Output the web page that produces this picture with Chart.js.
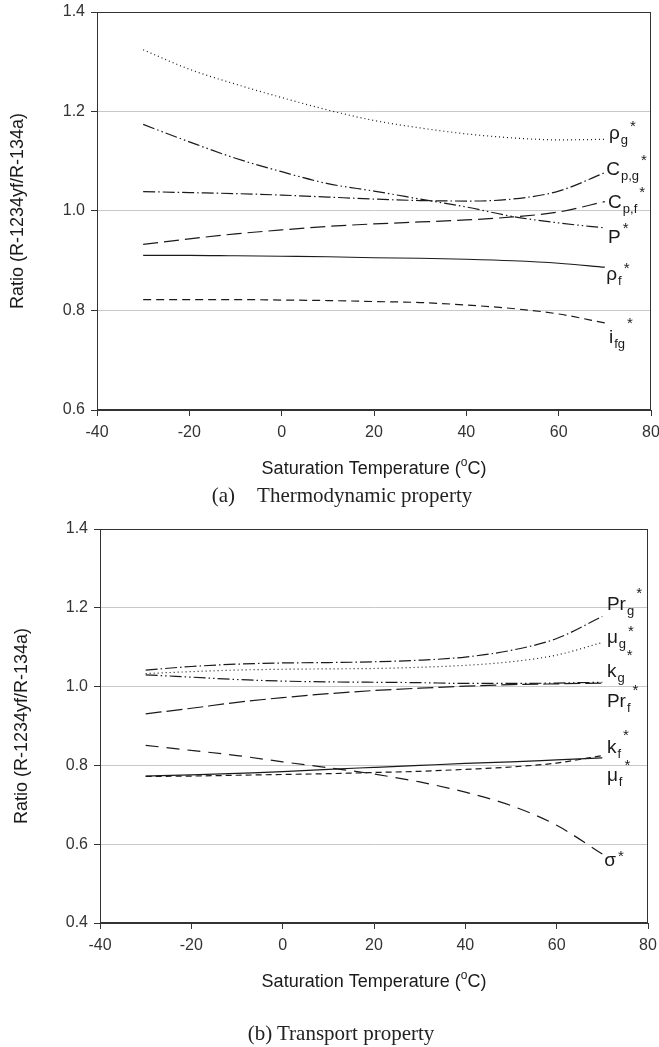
<!DOCTYPE html>
<html>
<head>
<meta charset="utf-8">
<script src="https://cdn.jsdelivr.net/npm/chart.js@4.4.0/dist/chart.umd.min.js"></script>
<style>
  html, body { margin: 0; padding: 0; background: #fff; }
  #page { position: relative; width: 659px; height: 1047px; overflow: hidden; }
  .wrap { position: absolute; left: 0; width: 659px; }
  .caption {
    position: absolute; font-family: 'Liberation Serif', 'Times New Roman', serif;
    font-size: 21px; color: #222; white-space: nowrap; transform: translate(-50%, -50%);
  }
  .caption .gap { display: inline-block; width: 22px; }
</style>
</head>
<body>
<div id="page">
  <div class="wrap" style="top:0;height:510px"><canvas id="thermoChart" width="659" height="510"></canvas></div>
  <div class="wrap" style="top:510px;height:537px"><canvas id="transChart" width="659" height="537"></canvas></div>
  <div class="caption" style="left:342px;top:495px">(a)<span class="gap"></span>Thermodynamic property</div>
  <div class="caption" style="left:341px;top:1033px">(b) Transport property</div>
</div>
<script>
// ── 数据：饱和温度 (°C) ──
const TEMPS = [-30, -20, -10, 0, 10, 20, 30, 40, 50, 60, 70];

// (a) 热力学性质比值
const RHO_G = [1.324, 1.285, 1.255, 1.228, 1.203, 1.182, 1.167, 1.155, 1.147, 1.143, 1.144];
const CP_G  = [1.039, 1.037, 1.035, 1.032, 1.028, 1.024, 1.021, 1.020, 1.024, 1.040, 1.077];
const P_SAT = [1.174, 1.139, 1.106, 1.079, 1.055, 1.040, 1.024, 1.008, 0.989, 0.976, 0.966];
const CP_F  = [0.933, 0.944, 0.954, 0.962, 0.969, 0.974, 0.978, 0.982, 0.988, 0.998, 1.019];
const RHO_F = [0.911, 0.911, 0.910, 0.909, 0.908, 0.906, 0.905, 0.903, 0.900, 0.895, 0.887];
const I_FG  = [0.822, 0.822, 0.822, 0.821, 0.820, 0.818, 0.816, 0.811, 0.804, 0.793, 0.775];

// (b) 输运性质比值
const PR_G  = [1.042, 1.051, 1.057, 1.060, 1.061, 1.063, 1.067, 1.075, 1.092, 1.122, 1.178];
const MU_G  = [1.033, 1.038, 1.042, 1.044, 1.045, 1.046, 1.049, 1.054, 1.063, 1.080, 1.112];
const K_G   = [1.030, 1.024, 1.018, 1.014, 1.012, 1.011, 1.010, 1.008, 1.008, 1.009, 1.011];
const PR_F  = [0.931, 0.945, 0.960, 0.972, 0.982, 0.990, 0.996, 1.001, 1.005, 1.007, 1.009];
const SIGMA = [0.851, 0.838, 0.825, 0.809, 0.794, 0.778, 0.758, 0.732, 0.698, 0.648, 0.575];
const K_F   = [0.773, 0.776, 0.780, 0.784, 0.790, 0.795, 0.800, 0.805, 0.809, 0.814, 0.819];
const MU_F  = [0.772, 0.773, 0.775, 0.777, 0.779, 0.782, 0.785, 0.790, 0.796, 0.806, 0.825];

const SANS = "'Liberation Sans', Arial, sans-serif";
const INK = '#1a1a1a';

// 线型
const DOT = [1, 3];
const DASH_DOT = [12, 3, 1.5, 3];
const DASH_DOT_DOT = [12, 3, 1.5, 3, 1.5, 3];
const LONG_DASH = [15, 6];
const MID_DASH = [8, 5];

// ── 曲线标注（数据坐标 + 上下标） ──
const THERMO_LABELS = [
  { x: 70.9, y: 1.145, s: 'ρ', sub: 'g', supDy: -8 },
  { x: 70.3, y: 1.072, s: 'C', sub: 'p,g', supDy: -10 },
  { x: 70.7, y: 1.006, s: 'C', sub: 'p,f', supDy: -11 },
  { x: 70.7, y: 0.936, s: 'P', sub: '', supDy: -10 },
  { x: 70.3, y: 0.861, s: 'ρ', sub: 'f', supDy: -7 },
  { x: 70.9, y: 0.735, s: 'i', sub: 'fg', supDy: -15 }
];
const TRANS_LABELS = [
  { x: 71.0, y: 1.194, s: 'Pr', sub: 'g', supDy: -12 },
  { x: 71.0, y: 1.111, s: 'μ', sub: 'g', supDy: -7 },
  { x: 71.0, y: 1.024, s: 'k', sub: 'g', supDy: -17 },
  { x: 71.0, y: 0.948, s: 'Pr', sub: 'f', supDy: -12 },
  { x: 71.0, y: 0.831, s: 'k', sub: 'f', supDy: -13 },
  { x: 71.0, y: 0.760, s: 'μ', sub: 'f', supDy: -11 },
  { x: 70.4, y: 0.545, s: 'σ', sub: '', supDy: -5 }
];

function drawParts(ctx, x, y, parts) {
  let cx = x;
  parts.forEach(p => {
    ctx.font = `${p.size}px ${SANS}`;
    cx += p.dx || 0;
    ctx.fillText(p.t, cx, y + (p.dy || 0));
    cx += ctx.measureText(p.t).width;
  });
}

function partsWidth(ctx, parts) {
  let w = 0;
  parts.forEach(p => {
    ctx.font = `${p.size}px ${SANS}`;
    w += ctx.measureText(p.t).width + (p.dx || 0);
  });
  return w;
}

// ── 边框、轴标题、曲线标注 ──
const decorPlugin = {
  id: 'decor',
  afterDraw(chart, args, opts) {
    const { ctx, chartArea: a, scales } = chart;
    ctx.save();
    ctx.strokeStyle = '#333';
    ctx.lineWidth = 1;
    const l = Math.round(a.left) + 0.5, t = Math.round(a.top) + 0.5;
    const r = Math.round(a.right) - 0.5, b = Math.round(a.bottom) - 0.5;
    ctx.strokeRect(l, t, r - l, b - t);

    ctx.fillStyle = INK;
    ctx.textBaseline = 'alphabetic';
    ctx.textAlign = 'left';

    // x 轴标题
    const xt = [
      { t: 'Saturation Temperature (', size: 18 },
      { t: 'o', size: 12, dy: -8 },
      { t: 'C)', size: 18 }
    ];
    const w = partsWidth(ctx, xt);
    drawParts(ctx, (a.left + a.right) / 2 - w / 2, a.bottom + opts.xTitleDy, xt);

    // y 轴标题
    ctx.save();
    ctx.translate(opts.yTitleX, (a.top + a.bottom) / 2);
    ctx.rotate(-Math.PI / 2);
    ctx.font = `18px ${SANS}`;
    ctx.textAlign = 'center';
    ctx.textBaseline = 'middle';
    ctx.fillText('Ratio (R-1234yf/R-134a)', 0, 0);
    ctx.restore();

    // 曲线标注
    opts.labels.forEach(lb => {
      const px = scales.x.getPixelForValue(lb.x);
      const py = scales.y.getPixelForValue(lb.y);
      const parts = [{ t: lb.s, size: 19 }];
      if (lb.sub) parts.push({ t: lb.sub, size: 13, dy: 5, dx: 1 });
      parts.push({ t: '*', size: 15, dy: lb.supDy, dx: 2 });
      drawParts(ctx, px, py, parts);
    });
    ctx.restore();
  }
};

function series(values, dash) {
  return {
    data: TEMPS.map((t, i) => ({ x: t, y: values[i] })),
    borderColor: INK,
    borderWidth: 1.2,
    borderDash: dash,
    pointRadius: 0,
    fill: false,
    cubicInterpolationMode: 'monotone'
  };
}

function makeChart(id, datasets, cfg) {
  const ctx = document.getElementById(id).getContext('2d');
  return new Chart(ctx, {
    type: 'line',
    data: { datasets },
    plugins: [decorPlugin],
    options: {
      responsive: false,
      animation: false,
      events: [],
      layout: { padding: cfg.padding },
      plugins: {
        legend: { display: false },
        tooltip: { enabled: false },
        decor: { labels: cfg.labels, xTitleDy: 64, yTitleX: cfg.yTitleX }
      },
      scales: {
        x: {
          type: 'linear',
          min: -40, max: 80,
          afterFit: s => { s.height = cfg.xHeight; s.paddingLeft = 0; s.paddingRight = 0; },
          ticks: { stepSize: 20, color: '#333', font: { size: 16 }, padding: 7 },
          grid: { drawOnChartArea: false, tickLength: 6, tickColor: '#333' },
          border: { color: '#333' }
        },
        y: {
          min: cfg.yMin, max: 1.4,
          afterFit: s => { s.width = cfg.yWidth; s.paddingTop = 0; s.paddingBottom = 0; },
          ticks: { stepSize: 0.2, color: '#333', font: { size: 16 }, padding: 6,
                   callback: v => v.toFixed(1) },
          grid: { color: '#c8c8c8', lineWidth: 1, tickLength: 6, tickColor: '#333' },
          border: { color: '#333' }
        }
      }
    }
  });
}

makeChart('thermoChart', [
  series(RHO_G, DOT),
  series(CP_G, DASH_DOT),
  series(P_SAT, DASH_DOT_DOT),
  series(CP_F, LONG_DASH),
  series(RHO_F, []),
  series(I_FG, MID_DASH)
], {
  padding: { left: 0, right: 8, top: 12, bottom: 0 },
  xHeight: 100, yWidth: 97, yMin: 0.6, yTitleX: 18, labels: THERMO_LABELS
});

makeChart('transChart', [
  series(PR_G, DASH_DOT),
  series(MU_G, DOT),
  series(K_G, DASH_DOT_DOT),
  series(PR_F, [16, 5]),
  series(SIGMA, [13, 8]),
  series(K_F, []),
  series(MU_F, [6, 4])
], {
  padding: { left: 0, right: 11, top: 19, bottom: 0 },
  xHeight: 124, yWidth: 100, yMin: 0.4, yTitleX: 22, labels: TRANS_LABELS
});
</script>
</body>
</html>
